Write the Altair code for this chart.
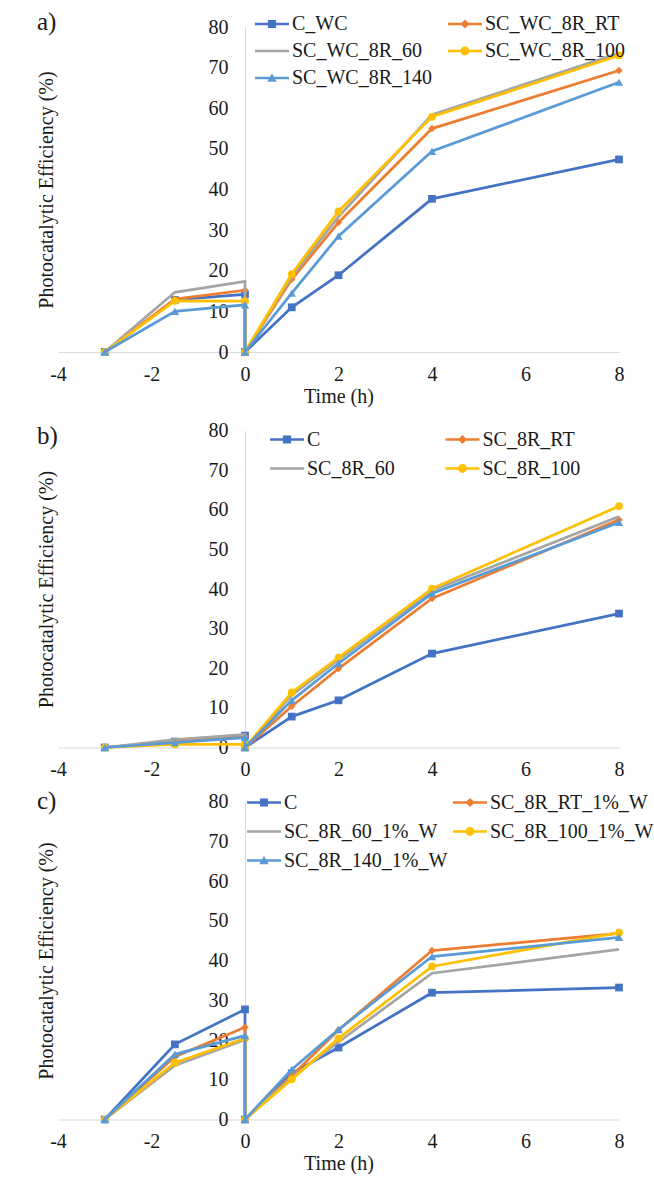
import altair as alt
import pandas as pd

# ---------------- data ----------------
TIME = [-3, -1.5, 0, 0, 1, 2, 4, 8]
COLORS = ["#4472C4", "#ED7D31", "#A5A5A5", "#FFC000", "#5B9BD5"]
X_TICKS = [-4, -2, 0, 2, 4, 6, 8]
Y_TICKS = [0, 10, 20, 30, 40, 50, 60, 70, 80]

# panel a)
A_NAMES = ["C_WC", "SC_WC_8R_RT", "SC_WC_8R_60", "SC_WC_8R_100", "SC_WC_8R_140"]
A_C_WC = [0, 12.8, 14.2, 0, 11.0, 18.9, 37.7, 47.4]
A_RT = [0, 13.0, 15.2, 0, 17.9, 31.9, 55.0, 69.3]
A_60 = [0, 14.7, 17.4, 0, 18.6, 33.3, 58.4, 73.5]
A_100 = [0, 12.6, 12.5, 0, 19.2, 34.6, 57.9, 73.0]
A_140 = [0, 10.0, 11.6, 0, 14.5, 28.5, 49.4, 66.4]

# panel b)
B_NAMES = ["C", "SC_8R_RT", "SC_8R_60", "SC_8R_100", "SC_8R_140"]
B_LEGEND = ["C", "SC_8R_RT", "SC_8R_60", "SC_8R_100"]
B_C = [0, 1.5, 3.0, 0, 7.8, 11.9, 23.7, 33.8]
B_RT = [0, 1.5, 2.8, 0, 10.4, 19.9, 37.6, 57.5]
B_60 = [0, 2.0, 3.3, 0, 13.2, 22.2, 39.6, 58.3]
B_100 = [0, 0.8, 0.8, 0, 13.9, 22.7, 40.1, 60.9]
B_140 = [0, 1.2, 2.5, 0, 11.9, 21.2, 38.9, 56.8]

# panel c)
C_NAMES = ["C", "SC_8R_RT_1%_W", "SC_8R_60_1%_W", "SC_8R_100_1%_W", "SC_8R_140_1%_W"]
C_C = [0, 18.9, 27.7, 0, 11.6, 18.1, 31.9, 33.2]
C_RT = [0, 15.8, 23.2, 0, 11.0, 22.5, 42.5, 46.8]
C_60 = [0, 13.6, 20.1, 0, 10.5, 19.5, 36.8, 42.8]
C_100 = [0, 14.3, 20.4, 0, 10.1, 20.4, 38.5, 47.0]
C_140 = [0, 16.4, 21.1, 0, 12.6, 22.6, 41.0, 45.8]

# ---------------- styling ----------------
FONT = "Liberation Serif"
TXT = "#1a1a1a"
AXIS_GRAY = "#D9D9D9"
W = 561
MARKERS = ["square", "diamond", None, "circle", "triangle-up"]
MARKER_SIZE = [60, 55, 0, 60, 70]

_bar = "M-1,-0.075L1,-0.075L1,0.075L-1,0.075Z"
LEGEND_SHAPES = [
    _bar + " M-0.24,-0.24L0.24,-0.24L0.24,0.24L-0.24,0.24Z",
    _bar + " M0,-0.27L0.27,0L0,0.27L-0.27,0Z",
    _bar,
    _bar + " M-0.26,0A0.26,0.26,0,1,1,0.26,0A0.26,0.26,0,1,1,-0.26,0Z",
    _bar + " M0,-0.28L0.28,0.22L-0.28,0.22Z",
]


def panel(tag, names, series, legend_values, height, lx, ly, row_pad, col_pad, xtitle):
    rows = []
    for k, (name, vals) in enumerate(zip(names, series)):
        for i, (t, v) in enumerate(zip(TIME, vals)):
            rows.append({"series": name, "t": t, "v": v, "idx": i, "k": k})
    df = pd.DataFrame(rows)
    base = alt.Chart(df)

    x = alt.X(
        "t:Q",
        scale=alt.Scale(domain=[-4, 8], nice=False, zero=False),
        axis=alt.Axis(
            values=X_TICKS,
            title=xtitle,
            labelExpr="datum.value + ''",
            labelFlush=False,
            labelPadding=12,
            titlePadding=2,
        ),
    )
    y = alt.Y(
        "v:Q",
        scale=alt.Scale(domain=[0, 80], nice=False),
        axis=alt.Axis(
            values=Y_TICKS,
            title="Photocatalytic Efficiency (%)",
            offset=-W / 3,
            labelPadding=17,
            titleX=-W / 3 - 12,
            titleBaseline="middle",
        ),
    )

    layers = []
    for k in range(len(names)):
        sub = base.transform_filter(alt.datum.k == k)
        layers.append(
            sub.mark_line(strokeWidth=2.75, color=COLORS[k]).encode(
                x=x, y=y, order="idx:Q"
            )
        )
        if MARKERS[k] is not None:
            layers.append(
                sub.mark_point(shape=MARKERS[k], filled=True, opacity=1,
                               size=MARKER_SIZE[k], color=COLORS[k])
                .encode(x=x, y=y)
            )

    leg = dict(
        title=None,
        orient="none",
        direction="horizontal",
        legendX=lx,
        legendY=ly,
        columns=2,
        columnPadding=col_pad,
        rowPadding=row_pad,
        padding=0,
        symbolSize=1156,
        symbolStrokeWidth=0,
        symbolOpacity=1,
        labelFont=FONT,
        labelFontSize=20,
        labelColor=TXT,
        labelOffset=3,
        labelLimit=0,
        values=legend_values,
    )
    layers.append(
        base.transform_filter("datum.t > 100")
        .mark_point(filled=True, opacity=1)
        .encode(
            x=x,
            y=y,
            color=alt.Color("series:N", scale=alt.Scale(domain=names, range=COLORS),
                            legend=alt.Legend(**leg)),
            shape=alt.Shape(
                "series:N",
                scale=alt.Scale(domain=names, range=LEGEND_SHAPES),
                legend=alt.Legend(**leg),
            ),
        )
    )

    return alt.layer(*layers).properties(
        width=W,
        height=height,
        title=alt.TitleParams(
            text=tag,
            anchor="start",
            frame="group",
            font=FONT,
            fontSize=25,
            fontWeight="normal",
            color=TXT,
            dx=-21,
            offset=-28,
        ),
    )


pa = panel("a)", A_NAMES, [A_C_WC, A_RT, A_60, A_100, A_140], A_NAMES,
           325, 197, -20, -7, 15, "Time (h)")
pb = panel("b)", B_NAMES, [B_C, B_RT, B_60, B_100, B_140], B_LEGEND,
           317, 212, -8, 2, 50.5, None)
pc = panel("c)", C_NAMES, [C_C, C_RT, C_60, C_100, C_140], C_NAMES,
           318, 189, -16, 2, 5, "Time (h)")

lower = alt.vconcat(pb, pc, spacing=6).resolve_scale(color="independent", shape="independent")

chart = (
    alt.vconcat(pa, lower, spacing=14.5)
    .resolve_scale(color="independent", shape="independent")
    .properties(padding={"left": 35, "top": 7, "right": 0, "bottom": 0},
                background="white")
    .configure_view(stroke=None)
    .configure_axis(
        grid=False,
        ticks=False,
        domainColor=AXIS_GRAY,
        domainWidth=1,
        labelFont=FONT,
        labelFontSize=20,
        labelColor=TXT,
        titleFont=FONT,
        titleFontSize=20,
        titleFontWeight="normal",
        titleColor=TXT,
    )
)

chart.save("out.html", embed_options={"renderer": "svg", "actions": False})
